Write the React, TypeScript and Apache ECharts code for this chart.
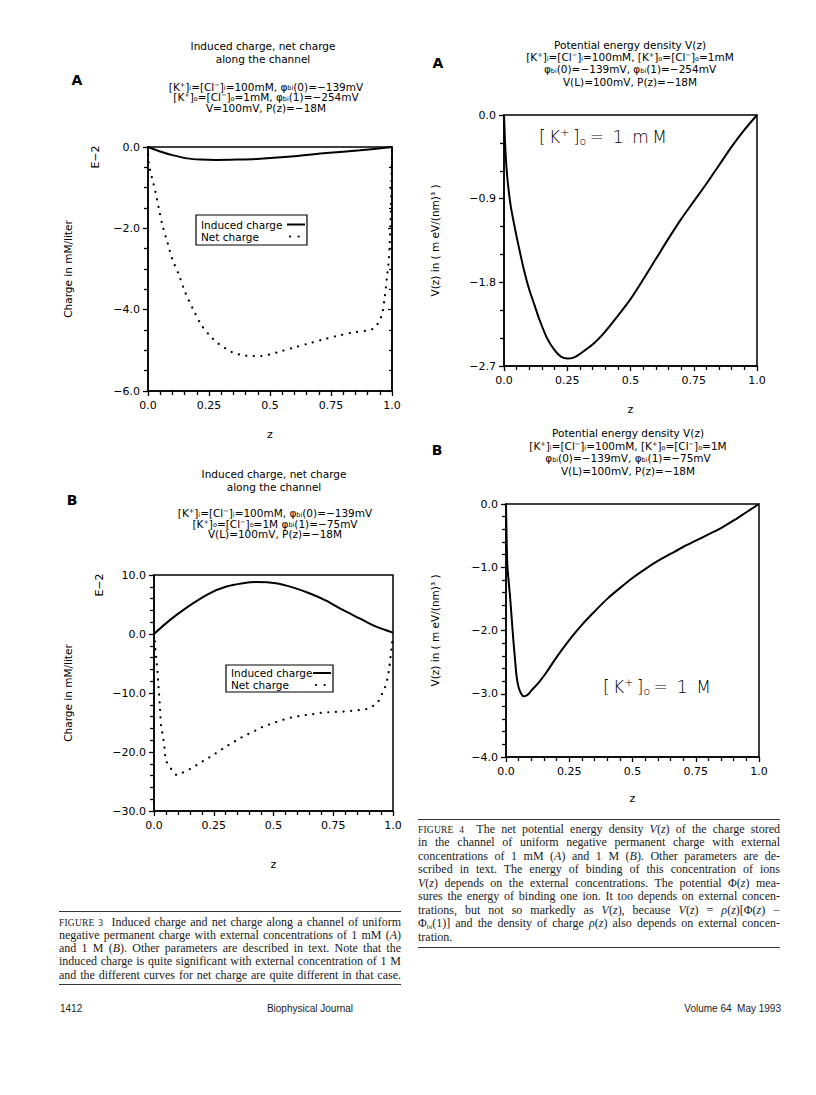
import React, { useEffect, useRef } from "react";
import * as echarts from "echarts";

// ---------------- data ----------------
const zTickLabels = ["0.0", "0.25", "0.5", "0.75", "1.0"];

// Figure 3A (external 1 mM), charge in E-2 mM/liter
const y3ATickLabels = ["\u22126.0", "\u22124.0", "\u22122.0", "0.0"];
const z3AInduced = [0, 0.05, 0.1, 0.16, 0.215, 0.28, 0.365, 0.46, 0.6, 0.73, 0.87, 1.0];
const q3AInduced = [0, -0.11, -0.2, -0.28, -0.31, -0.32, -0.31, -0.29, -0.23, -0.15, -0.08, 0];
const z3ANet = [0, 0.003, 0.01, 0.02, 0.03, 0.044, 0.06, 0.08, 0.1, 0.126, 0.153, 0.184, 0.22, 0.26, 0.29, 0.32, 0.35, 0.38, 0.42, 0.46, 0.5, 0.54, 0.6, 0.665, 0.72, 0.78, 0.84, 0.9, 0.925, 0.945, 0.96, 0.97, 0.98, 0.986, 0.99, 0.994, 0.997, 1.0];
const q3ANet = [0, -0.39, -0.6, -0.84, -1.09, -1.5, -1.94, -2.35, -2.76, -3.13, -3.58, -3.98, -4.39, -4.68, -4.84, -4.96, -5.06, -5.11, -5.14, -5.14, -5.1, -5.03, -4.93, -4.82, -4.73, -4.64, -4.56, -4.51, -4.46, -4.31, -4.1, -3.7, -3.17, -2.84, -2.43, -1.8, -1.0, 0];

// Figure 3B (external 1 M)
const y3BTickLabels = ["\u221230.0", "\u221220.0", "\u221210.0", "0.0", "10.0"];
const z3BInduced = [0, 0.05, 0.093, 0.163, 0.233, 0.3, 0.372, 0.428, 0.51, 0.58, 0.65, 0.72, 0.79, 0.86, 0.93, 1.0];
const q3BInduced = [0, 1.8, 3.2, 5.2, 6.9, 8.0, 8.6, 8.8, 8.6, 7.9, 6.9, 5.65, 4.07, 2.66, 1.24, 0.23];
const z3BNet = [0, 0.003, 0.006, 0.01, 0.014, 0.017, 0.02, 0.024, 0.027, 0.03, 0.038, 0.045, 0.05, 0.066, 0.08, 0.096, 0.114, 0.135, 0.163, 0.19, 0.22, 0.247, 0.275, 0.3, 0.33, 0.358, 0.386, 0.414, 0.44, 0.47, 0.5, 0.526, 0.554, 0.58, 0.61, 0.64, 0.665, 0.69, 0.72, 0.75, 0.78, 0.8, 0.83, 0.86, 0.89, 0.916, 0.937, 0.95, 0.965, 0.975, 0.983, 0.99, 0.996, 1.0];
const q3BNet = [0, -1.0, -2.7, -4.4, -6.1, -7.8, -9.5, -11.8, -14.0, -15.7, -17.4, -19.7, -21.4, -22.5, -23.3, -23.9, -23.6, -23.2, -22.6, -21.9, -21.2, -20.5, -19.8, -19.1, -18.4, -17.7, -17.1, -16.6, -16.0, -15.5, -15.1, -14.7, -14.4, -14.1, -13.9, -13.7, -13.6, -13.4, -13.3, -13.2, -13.2, -13.1, -13.0, -12.9, -12.7, -12.2, -11.5, -10.5, -9.2, -7.8, -6.1, -3.8, -1.6, -0.2];

// Figure 4A (1 mM), V(z) in m eV/(nm)^3
const y4ATickLabels = ["\u22122.7", "\u22121.8", "\u22120.9", "0.0"];
const z4A = [0, 0.003, 0.007, 0.012, 0.018, 0.026, 0.036, 0.05, 0.065, 0.08, 0.1, 0.12, 0.14, 0.17, 0.2, 0.225, 0.25, 0.275, 0.3, 0.35, 0.4, 0.45, 0.5, 0.55, 0.6, 0.65, 0.7, 0.75, 0.8, 0.85, 0.9, 0.95, 1.0];
const v4A = [0, -0.22, -0.45, -0.64, -0.8, -0.97, -1.12, -1.31, -1.5, -1.68, -1.88, -2.04, -2.2, -2.4, -2.53, -2.6, -2.62, -2.61, -2.57, -2.47, -2.33, -2.16, -1.98, -1.77, -1.55, -1.33, -1.12, -0.93, -0.74, -0.54, -0.34, -0.16, 0];

// Figure 4B (1 M)
const y4BTickLabels = ["\u22124.0", "\u22123.0", "\u22122.0", "\u22121.0", "0.0"];
const z4B = [0, 0.002, 0.005, 0.01, 0.016, 0.022, 0.029, 0.036, 0.042, 0.05, 0.06, 0.07, 0.08, 0.09, 0.1, 0.13, 0.16, 0.19, 0.22, 0.26, 0.3, 0.35, 0.4, 0.45, 0.5, 0.55, 0.6, 0.65, 0.7, 0.75, 0.8, 0.85, 0.9, 0.95, 1.0];
const v4B = [0, -0.45, -0.94, -1.2, -1.46, -1.78, -2.15, -2.47, -2.73, -2.9, -3.0, -3.04, -3.03, -3.0, -2.95, -2.82, -2.66, -2.48, -2.31, -2.1, -1.91, -1.7, -1.5, -1.33, -1.17, -1.03, -0.9, -0.79, -0.68, -0.58, -0.48, -0.38, -0.26, -0.13, 0];

const legendNames = ["Induced charge", "Net charge"];

// ---------------- helpers ----------------
const FONT = '"DejaVu Sans", sans-serif';
const zip = (a: number[], b: number[]) => a.map((v, i) => [v, b[i]]);

const rich: any = {
  sup: { fontSize: 6.5, fontFamily: FONT, lineHeight: 6, verticalAlign: "top", fill: "#000" },
  sub: { fontSize: 6.5, fontFamily: FONT, lineHeight: 6, verticalAlign: "bottom", fill: "#000" },
  bsup: { fontSize: 11, fontFamily: FONT, fontWeight: 200, lineHeight: 11, verticalAlign: "top", fill: "#000" },
  bsub: { fontSize: 11, fontFamily: FONT, fontWeight: 200, lineHeight: 11, verticalAlign: "bottom", fill: "#000" },
};

function txt(x: number, y: number, text: string, size = 10.5, extra: any = {}) {
  return {
    type: "text",
    x,
    y,
    silent: true,
    rotation: extra.rotation || 0,
    style: {
      text,
      fill: "#000",
      fontSize: size,
      fontFamily: FONT,
      fontWeight: extra.fontWeight || "normal",
      align: extra.align || "center",
      verticalAlign: "middle",
      textAlign: extra.align || "center",
      textVerticalAlign: "middle",
      lineHeight: extra.lineHeight || 10.5,
      rich,
    },
  };
}

function xAxisFor(gridIndex: number, nameGap: number) {
  return {
    type: "value",
    gridIndex,
    min: 0,
    max: 1,
    interval: 0.25,
    name: "z",
    nameLocation: "middle",
    nameGap,
    nameTextStyle: { fontFamily: FONT, fontSize: 11, color: "#000" },
    axisLine: { onZero: false, lineStyle: { color: "#000", width: 1.5 } },
    axisTick: { show: true, length: 5, lineStyle: { color: "#000", width: 1.3 } },
    minorTick: { show: true, splitNumber: 5, length: 4, lineStyle: { color: "#000", width: 1.3 } },
    splitLine: { show: false },
    minorSplitLine: { show: false },
    axisLabel: {
      margin: 9,
      fontFamily: FONT,
      fontSize: 11,
      color: "#000",
      formatter: (v: number) => zTickLabels[Math.round(v / 0.25)],
    },
  };
}

function yAxisFor(
  gridIndex: number,
  min: number,
  max: number,
  interval: number,
  minorSplit: number,
  labels: string[],
  name: string,
  nameGap: number
) {
  return {
    type: "value",
    gridIndex,
    min,
    max,
    interval,
    name,
    nameLocation: "middle",
    nameGap,
    nameRotate: 90,
    nameTextStyle: { fontFamily: FONT, fontSize: 10.5, color: "#000" },
    axisLine: { onZero: false, lineStyle: { color: "#000", width: 1.5 } },
    axisTick: { show: true, length: 5, lineStyle: { color: "#000", width: 1.3 } },
    minorTick: { show: true, splitNumber: minorSplit, length: 4, lineStyle: { color: "#000", width: 1.3 } },
    splitLine: { show: false },
    minorSplitLine: { show: false },
    axisLabel: {
      margin: 8,
      fontFamily: FONT,
      fontSize: 11,
      color: "#000",
      formatter: (v: number) => labels[Math.round((v - min) / interval)],
    },
  };
}

const solid = { color: "#000", width: 2 };
const dotted = { color: "#000", width: 2.2, type: [0.1, 7.5], cap: "round" };

// legend box drawn with graphic primitives (solid sample / dotted sample)
function legendBox(x: number, y: number, w: number, h: number, row1: number, row2: number, sx1: number, sx2: number) {
  return [
    { type: "rect", shape: { x, y, width: w, height: h }, style: { fill: "#fff", stroke: "#000", lineWidth: 1.2 }, z: 50 },
    { ...txt(x + 5, y + row1, legendNames[0], 10.5, { align: "left", lineHeight: 12 }), z: 51 },
    { ...txt(x + 5, y + row2, legendNames[1], 10.5, { align: "left", lineHeight: 12 }), z: 51 },
    { type: "line", shape: { x1: sx1, y1: y + row1, x2: sx2, y2: y + row1 }, style: { stroke: "#000", lineWidth: 2 }, z: 51 },
    { type: "line", shape: { x1: sx1 + 3, y1: y + row2, x2: sx2, y2: y + row2 }, style: { stroke: "#000", lineWidth: 2.2, lineDash: [0.1, 8.5], lineCap: "round" }, z: 51 },
  ];
}

function buildOption() {
  const grids = [
    { left: 148, top: 147, width: 244, height: 244 },
    { left: 154, top: 575, width: 239, height: 236 },
    { left: 504, top: 115, width: 253, height: 251 },
    { left: 506, top: 504, width: 253, height: 253 },
  ].map((g) => ({ ...g, show: true, borderColor: "#000", borderWidth: 1.5, backgroundColor: "transparent", containLabel: false }));

  const rightAxis3A = {
    type: "value",
    gridIndex: 0,
    position: "right",
    min: -6,
    max: 0,
    interval: 2,
    axisLine: { show: true, onZero: false, lineStyle: { color: "#000", width: 1.5 } },
    axisTick: { show: true, inside: true, length: 4, lineStyle: { color: "#000", width: 1.2 } },
    minorTick: { show: true, splitNumber: 4, length: 3, lineStyle: { color: "#000", width: 1.2 } },
    axisLabel: { show: false },
    splitLine: { show: false },
  };

  const P = "\u03c6";
  const T = "\u2009";
  const graphic = [
    // Figure 3A headings
    txt(263, 46, "Induced charge, net charge"),
    txt(263, 59, "along the channel"),
    txt(77, 80, "A", 14, { fontWeight: "bold", lineHeight: 16 }),
    txt(266, 86.5, `[K{sup|+}]{sub|i}=[Cl{sup|\u2212}]{sub|i}=100mM, ${P}{sub|bi}(0)=\u2212139mV`),
    txt(266, 97, `[K{sup|+}]{sub|o}=[Cl{sup|\u2212}]{sub|o}=1mM, ${P}{sub|bi}(1)=\u2212254mV`),
    txt(266, 107.5, "V=100mV, P(z)=\u221218M"),
    txt(95, 157, "E\u22122", 11, { rotation: Math.PI / 2, lineHeight: 12 }),
    // Figure 3B headings
    txt(274, 474, "Induced charge, net charge"),
    txt(274, 486.5, "along the channel"),
    txt(72, 500, "B", 14, { fontWeight: "bold", lineHeight: 16 }),
    txt(275, 513, `[K{sup|+}]{sub|i}=[Cl{sup|\u2212}]{sub|i}=100mM, ${P}{sub|bi}(0)=\u2212139mV`),
    txt(275, 523.5, `[K{sup|+}]{sub|o}=[Cl{sup|\u2212}]{sub|o}=1M ${P}{sub|bi}(1)=\u221275mV`),
    txt(275, 534, "V(L)=100mV, P(z)=\u221218M"),
    txt(99, 585, "E\u22122", 11, { rotation: Math.PI / 2, lineHeight: 12 }),
    // Figure 4A headings
    txt(438, 63, "A", 14, { fontWeight: "bold", lineHeight: 16 }),
    txt(630, 45, "Potential energy density V(z)"),
    txt(630, 57.2, `[K{sup|+}]{sub|i}=[Cl{sup|\u2212}]{sub|i}=100mM, [K{sup|+}]{sub|o}=[Cl{sup|\u2212}]{sub|o}=1mM`),
    txt(630, 69.4, `${P}{sub|bi}(0)=\u2212139mV, ${P}{sub|bi}(1)=\u2212254mV`),
    txt(630, 81.6, "V(L)=100mV, P(z)=\u221218M"),
    txt(603, 137, `[${T}K{bsup|+}${T}]{bsub|o}${T}=${T} 1${T} m${T}M`, 17, { fontWeight: 200, lineHeight: 20 }),
    // Figure 4B headings
    txt(437, 450, "B", 14, { fontWeight: "bold", lineHeight: 16 }),
    txt(628, 433, "Potential energy density V(z)"),
    txt(628, 445.8, `[K{sup|+}]{sub|i}=[Cl{sup|\u2212}]{sub|i}=100mM, [K{sup|+}]{sub|o}=[Cl{sup|\u2212}]{sub|o}=1M`),
    txt(628, 458.4, `${P}{sub|bi}(0)=\u2212139mV, ${P}{sub|bi}(1)=\u221275mV`),
    txt(628, 471, "V(L)=100mV, P(z)=\u221218M"),
    txt(657, 687, `[${T}K{bsup|+}${T}]{bsub|o}${T}=${T} 1${T} M`, 17, { fontWeight: 200, lineHeight: 20 }),
    // legends
    ...legendBox(196, 215, 111, 30, 9.5, 21.5, 287, 305),
    ...legendBox(226, 665, 107, 27, 8, 20, 313, 331),
  ];

  return {
    animation: false,
    backgroundColor: "#fff",
    color: ["#000"],
    grid: grids,
    xAxis: [xAxisFor(0, 38), xAxisFor(1, 48), xAxisFor(2, 38), xAxisFor(3, 36)],
    yAxis: [
      yAxisFor(0, -6, 0, 2, 4, y3ATickLabels, "Charge in mM/liter", 75),
      yAxisFor(1, -30, 10, 10, 5, y3BTickLabels, "Charge in mM/liter", 81),
      yAxisFor(2, -2.7, 0, 0.9, 3, y4ATickLabels, "V(z) in ( m eV/(nm)\u00b3 )", 64),
      yAxisFor(3, -4, 0, 1, 5, y4BTickLabels, "V(z) in ( m eV/(nm)\u00b3 )", 66),
      rightAxis3A,
    ],
    series: [
      { type: "line", name: "Induced charge", xAxisIndex: 0, yAxisIndex: 0, data: zip(z3AInduced, q3AInduced), symbol: "none", smooth: 0.3, lineStyle: solid, itemStyle: { color: "#000" } },
      { type: "line", name: "Net charge", xAxisIndex: 0, yAxisIndex: 0, data: zip(z3ANet, q3ANet), symbol: "none", smooth: 0.3, lineStyle: dotted, itemStyle: { color: "#000" } },
      { type: "line", name: "Induced charge", xAxisIndex: 1, yAxisIndex: 1, data: zip(z3BInduced, q3BInduced), symbol: "none", smooth: 0.3, lineStyle: solid, itemStyle: { color: "#000" } },
      { type: "line", name: "Net charge", xAxisIndex: 1, yAxisIndex: 1, data: zip(z3BNet, q3BNet), symbol: "none", smooth: 0.3, lineStyle: dotted, itemStyle: { color: "#000" } },
      { type: "line", name: "V(z) 1 mM", xAxisIndex: 2, yAxisIndex: 2, data: zip(z4A, v4A), symbol: "none", smooth: 0.3, lineStyle: solid, itemStyle: { color: "#000" } },
      { type: "line", name: "V(z) 1 M", xAxisIndex: 3, yAxisIndex: 3, data: zip(z4B, v4B), symbol: "none", smooth: 0.3, lineStyle: solid, itemStyle: { color: "#000" } },
    ],
    graphic,
  };
}

// ---------------- captions ----------------
const SERIF = '"Liberation Serif", "Times New Roman", serif';
const capLine = (top: number, left: number, width: number, last: boolean, content: React.ReactNode, key: number) => (
  <div
    key={key}
    style={{
      position: "absolute",
      top: top - 6.5,
      left,
      width,
      height: 13,
      lineHeight: "13px",
      fontFamily: SERIF,
      fontSize: 12,
      color: "#1a1a1a",
      whiteSpace: "nowrap",
      textAlign: last ? "left" : "justify",
      textAlignLast: last ? "left" : "justify",
    }}
  >
    {content}
  </div>
);

const I = (s: string) => <i>{s}</i>;
const FIG = (s: string) => <span style={{ fontSize: 9.5, letterSpacing: 0.2 }}>{s}</span>;

const cap3: React.ReactNode[] = [
  <>{FIG("FIGURE 3")}&nbsp; Induced charge and net charge along a channel of uniform</>,
  <>negative permanent charge with external concentrations of 1 mM ({I("A")})</>,
  <>and 1 M ({I("B")}). Other parameters are described in text. Note that the</>,
  <>induced charge is quite significant with external concentration of 1 M</>,
  <>and the different curves for net charge are quite different in that case.</>,
];

const cap4: React.ReactNode[] = [
  <>{FIG("FIGURE 4")}&nbsp; The net potential energy density {I("V")}({I("z")}) of the charge stored</>,
  <>in the channel of uniform negative permanent charge with external</>,
  <>concentrations of 1 mM ({I("A")}) and 1 M ({I("B")}). Other parameters are de-</>,
  <>scribed in text. The energy of binding of this concentration of ions</>,
  <>{I("V")}({I("z")}) depends on the external concentrations. The potential Φ({I("z")}) mea-</>,
  <>sures the energy of binding one ion. It too depends on external concen-</>,
  <>trations, but not so markedly as {I("V")}({I("z")}), because {I("V")}({I("z")}) = {I("ρ")}({I("z")})[Φ({I("z")}) −</>,
  <>Φ<span style={{ fontSize: 7, lineHeight: "7px", position: "relative", top: 1.5 }}>bi</span>(1)] and the density of charge {I("ρ")}({I("z")}) also depends on external concen-</>,
  <>tration.</>,
];

const rule = (top: number, left: number, width: number) => (
  <div style={{ position: "absolute", top, left, width, height: 1.3, background: "#333" }} />
);

export default function App() {
  const ref = useRef<HTMLDivElement>(null);
  useEffect(() => {
    const chart = echarts.init(ref.current!, null, { renderer: "svg", width: 816, height: 1095 });
    chart.setOption(buildOption() as any);
    return () => chart.dispose();
  }, []);

  const footStyle: React.CSSProperties = {
    position: "absolute",
    top: 1003,
    fontFamily: '"Liberation Sans", Arial, sans-serif',
    fontSize: 10,
    color: "#222",
    whiteSpace: "nowrap",
  };

  return (
    <div style={{ position: "absolute", left: 0, top: 0, width: 816, height: 1095, background: "#fff", overflow: "hidden" }}>
      <div ref={ref} style={{ position: "absolute", left: 0, top: 0, width: 816, height: 1095 }} />
      {rule(911, 59, 342)}
      {cap3.map((c, i) => capLine(922 + i * 13.3, 59, 342, false, c, i))}
      {rule(984, 59, 342)}
      {rule(819, 418, 362)}
      {cap4.map((c, i) => capLine(829 + i * 13.5, 418, 362, i === cap4.length - 1, c, 100 + i))}
      {rule(947, 418, 362)}
      <div style={{ ...footStyle, left: 60 }}>1412</div>
      <div style={{ ...footStyle, left: 310, transform: "translateX(-50%)" }}>Biophysical Journal</div>
      <div style={{ ...footStyle, right: 816 - 781 }}>Volume 64&nbsp;&nbsp;May 1993</div>
    </div>
  );
}
